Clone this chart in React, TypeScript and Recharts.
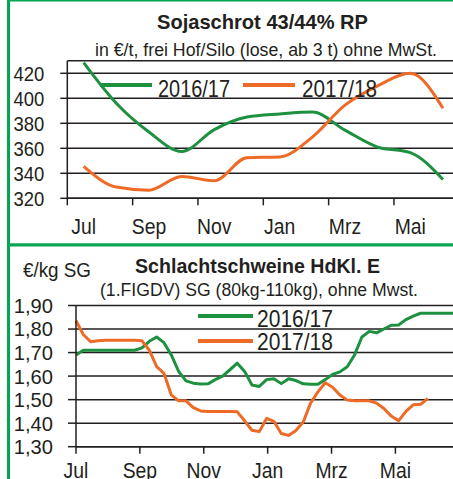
import React from 'react';
import { LineChart, Line, XAxis, YAxis, CartesianGrid } from 'recharts';

// Sojaschrot, Monatswerte (Jul..Jun)
const sojaMonths = ['Jul', 'Aug', 'Sep', 'Okt', 'Nov', 'Dez', 'Jan', 'Feb', 'Mrz', 'Apr', 'Mai', 'Jun'];
const soja1617 = [428.5, 396, 373, 357.5, 375, 385, 387.5, 389, 374.5, 361, 356.5, 335];
const soja1718 = [345.5, 329, 326.5, 337.5, 334, 352.5, 353, 369, 394.5, 410, 420, 392];
const sojaTicks = [320, 340, 360, 380, 400, 420];

// Schlachtschweine, Wochenwerte ab Anfang Juli
const pork1617 = [
  1.69, 1.71, 1.71, 1.71, 1.71, 1.71, 1.71, 1.71, 1.71, 1.72,
  1.748, 1.766, 1.742, 1.69, 1.62, 1.58, 1.57, 1.566, 1.567, 1.585,
  1.6, 1.627, 1.655, 1.62, 1.562, 1.556, 1.585, 1.589, 1.568, 1.589,
  1.581, 1.567, 1.565, 1.565, 1.585, 1.607, 1.618, 1.64, 1.69, 1.766,
  1.79, 1.784, 1.8, 1.816, 1.817, 1.84, 1.855, 1.867, 1.867, 1.867,
  1.867, 1.867, 1.867,
];
const pork1718 = [
  1.835, 1.777, 1.746, 1.75, 1.752, 1.752, 1.752, 1.752, 1.752, 1.75,
  1.71, 1.64, 1.612, 1.52, 1.495, 1.495, 1.466, 1.452, 1.45, 1.45,
  1.45, 1.45, 1.448, 1.41, 1.37, 1.364, 1.42, 1.408, 1.356, 1.348,
  1.369, 1.405, 1.485, 1.533, 1.572, 1.553, 1.52, 1.498, 1.495, 1.495,
  1.495, 1.485, 1.462, 1.43, 1.41, 1.45, 1.478, 1.48, 1.505,
];
const porkTicks = [1.3, 1.4, 1.5, 1.6, 1.7, 1.8, 1.9];
const WEEKS_PER_2_MONTHS = 61 / 7;
const monthLabels = ['Jul', 'Sep', 'Nov', 'Jan', 'Mrz', 'Mai'];
const monthTickWeeks = monthLabels.map((_, i) => i * WEEKS_PER_2_MONTHS);

const seriesNames = ['2016/17', '2017/18'];

const GREEN = '#1e9140';
const ORANGE = '#ee6a27';
const FRAME = '#00a651';
const INK = '#231f20';
const FONT = "'Liberation Sans', Arial, Helvetica, sans-serif";

const sojaData = sojaMonths.map((m, i) => ({ x: i + 0.5, month: m, s1617: soja1617[i], s1718: soja1718[i] }));
const porkData = pork1617.map((v, i) => ({ w: i, p1617: v, p1718: i < pork1718.length ? pork1718[i] : null }));

// top chart geometry
const TOP_W = 470;
const TOP_LEFT = 67.3;
const TOP_RIGHT = 10.7;
const HALF_MONTH = (TOP_W - TOP_LEFT - TOP_RIGHT) / 12 / 2;

// text squeezed horizontally for the condensed look
const NarrowText = ({ x, y, dy, anchor, size, squeeze = 0.88, children }: any) => (
  <text
    transform={`translate(${x},${y}) scale(${squeeze},1)`}
    dy={dy}
    textAnchor={anchor}
    fontSize={size}
    fill={INK}
    fontFamily={FONT}
  >
    {children}
  </text>
);

const MidMonthTick = (props: any) => (
  <NarrowText x={props.x + HALF_MONTH} y={props.y} dy={27} anchor="middle" size={22}>
    {monthLabels[Math.round(props.payload.value / 2)]}
  </NarrowText>
);

const WeekMonthTick = (props: any) => (
  <NarrowText x={props.x} y={props.y} dy="0.71em" anchor="middle" size={22}>
    {monthLabels[Math.round(props.payload.value / WEEKS_PER_2_MONTHS)]}
  </NarrowText>
);

const SojaValueTick = (props: any) => (
  <NarrowText x={props.x} y={props.y} dy="0.355em" anchor="end" size={21}>
    {props.payload.value}
  </NarrowText>
);

const PorkValueTick = (props: any) => (
  <NarrowText x={props.x} y={props.y} dy="0.355em" anchor="end" size={21} squeeze={0.96}>
    {Number(props.payload.value).toFixed(2).replace('.', ',')}
  </NarrowText>
);

const App: React.FC = () => {
  return (
    <div style={{ position: 'absolute', left: 0, top: 0, width: 453, height: 479, overflow: 'hidden', background: '#fff', fontFamily: FONT }}>
      <div style={{ position: 'absolute', left: 0, top: 0 }}>
        <LineChart width={TOP_W} height={240} data={sojaData} margin={{ top: 60.8, right: TOP_RIGHT, bottom: 11.7, left: 0 }}>
          <CartesianGrid vertical={false} stroke={INK} strokeWidth={1.5} />
          <XAxis
            type="number"
            dataKey="x"
            domain={[0, 12]}
            ticks={[0, 2, 4, 6, 8, 10]}
            interval={0}
            height={30}
            tickSize={7}
            stroke={INK}
            strokeWidth={1.5}
            tick={<MidMonthTick />}
          />
          <YAxis
            width={TOP_LEFT}
            domain={[320, 430]}
            ticks={sojaTicks}
            interval={0}
            tickSize={7}
            tickMargin={16}
            stroke={INK}
            strokeWidth={1.5}
            tick={<SojaValueTick />}
          />
          <Line type="monotone" dataKey="s1617" stroke={GREEN} strokeWidth={3} dot={false} isAnimationActive={false} />
          <Line type="monotone" dataKey="s1718" stroke={ORANGE} strokeWidth={3} dot={false} isAnimationActive={false} />
        </LineChart>
      </div>
      <div style={{ position: 'absolute', left: 0, top: 240 }}>
        <LineChart width={470} height={239} data={porkData} margin={{ top: 65.5, right: 12.8, bottom: 0.3, left: 0 }}>
          <CartesianGrid vertical={false} stroke={INK} strokeWidth={1.5} />
          <XAxis
            type="number"
            dataKey="w"
            domain={[0, 52]}
            ticks={monthTickWeeks}
            interval={0}
            height={32}
            tickSize={7}
            tickMargin={9}
            stroke={INK}
            strokeWidth={1.5}
            tick={<WeekMonthTick />}
          />
          <YAxis
            width={76}
            domain={[1.3, 1.9]}
            ticks={porkTicks}
            interval={0}
            tickSize={8}
            tickMargin={15}
            stroke={INK}
            strokeWidth={1.5}
            tick={<PorkValueTick />}
          />
          <Line type="linear" dataKey="p1617" stroke={GREEN} strokeWidth={3} dot={false} strokeLinejoin="round" isAnimationActive={false} />
          <Line type="linear" dataKey="p1718" stroke={ORANGE} strokeWidth={3} dot={false} strokeLinejoin="round" isAnimationActive={false} />
        </LineChart>
      </div>
      <svg width={453} height={479} style={{ position: 'absolute', left: 0, top: 0, pointerEvents: 'none' }} fontFamily={FONT} fill={INK}>
        <rect x={7} y={0} width={3} height={479} fill={FRAME} />
        <rect x={7} y={0} width={446} height={1.5} fill={FRAME} />
        <rect x={7} y={243.3} width={446} height={3.2} fill={FRAME} />

        <text x={262.5} y={28.5} textAnchor="middle" fontSize={21} fontWeight="bold" textLength={211} lengthAdjust="spacingAndGlyphs">
          Sojaschrot 43/44% RP
        </text>
        <text x={266} y={56} textAnchor="middle" fontSize={17.5} textLength={342} lengthAdjust="spacingAndGlyphs">
          in €/t, frei Hof/Silo (lose, ab 3 t) ohne MwSt.
        </text>
        <line x1={100} x2={152} y1={85} y2={85} stroke={GREEN} strokeWidth={4} />
        <text x={158} y={96.5} fontSize={24.5} textLength={72} lengthAdjust="spacingAndGlyphs">{seriesNames[0]}</text>
        <line x1={243} x2={295} y1={85} y2={85} stroke={ORANGE} strokeWidth={4} />
        <text x={302} y={96.5} fontSize={24.5} textLength={75} lengthAdjust="spacingAndGlyphs">{seriesNames[1]}</text>

        <text x={23} y={276.7} fontSize={20} textLength={68} lengthAdjust="spacingAndGlyphs">€/kg SG</text>
        <text x={257.5} y={273} textAnchor="middle" fontSize={21} fontWeight="bold" textLength={245} lengthAdjust="spacingAndGlyphs">
          Schlachtschweine HdKl. E
        </text>
        <text x={259} y={296} textAnchor="middle" fontSize={17.5} textLength={318} lengthAdjust="spacingAndGlyphs">
          (1.FIGDV) SG (80kg-110kg), ohne Mwst.
        </text>
        <line x1={198} x2={253} y1={316} y2={316} stroke={GREEN} strokeWidth={4} />
        <text x={257} y={326.5} fontSize={24} textLength={76} lengthAdjust="spacingAndGlyphs">{seriesNames[0]}</text>
        <line x1={198} x2={253} y1={341} y2={341} stroke={ORANGE} strokeWidth={4} />
        <text x={257} y={350} fontSize={24} textLength={76} lengthAdjust="spacingAndGlyphs">{seriesNames[1]}</text>
      </svg>
    </div>
  );
};

export default App;
